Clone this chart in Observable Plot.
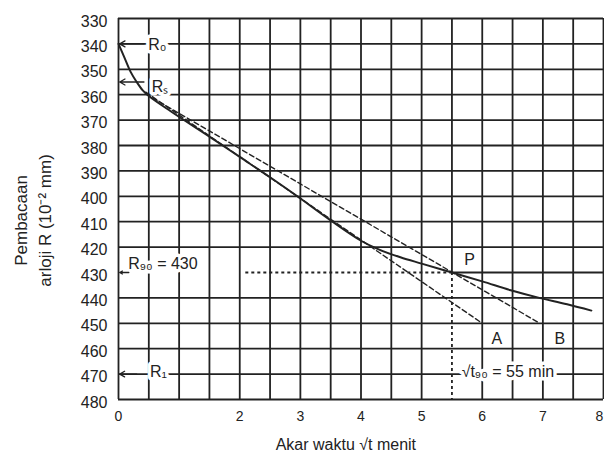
<!DOCTYPE html>
<html>
<head>
<meta charset="utf-8">
<script src="https://cdn.jsdelivr.net/npm/d3@7"></script>
<script src="https://cdn.jsdelivr.net/npm/@observablehq/plot@0.6"></script>
<style>
  body { margin: 0; background: #fff; }
  #chart { width: 604px; height: 461px; overflow: hidden; }
</style>
</head>
<body>
<div id="chart"></div>
<script>
// ---- data ----
const yTicks = [330, 340, 350, 360, 370, 380, 390, 400, 410, 420, 430, 440, 450, 460, 470, 480];
const xTicks = [0, 2, 3, 4, 5, 6, 7];
const xTickLast = [8];
const xGridVals = [0, 0.5, 1, 1.5, 2, 2.5, 3, 3.5, 4, 4.5, 5, 5.5, 6, 6.5, 7, 7.5, 8];

// measured settlement curve (dial reading vs sqrt time)
const curveX = [0, 0.1, 0.2, 0.3, 0.4, 0.5, 0.86, 1.5, 2.0, 2.5, 2.95, 3.5, 4.0, 4.3, 4.65, 5.0, 5.5, 6.0, 6.47, 6.91, 7.4, 7.8];
const curveY = [340, 345.5, 351, 355, 358.3, 360.5, 366.5, 376.5, 384.5, 392.5, 400, 409.5, 417.5, 421, 424, 426.5, 430, 433.5, 437, 439.8, 442.5, 445];

// construction lines (Taylor)
const lineAX = [0.45, 6.0];
const lineAY = [359, 450];
const lineBX = [0.45, 6.95];
const lineBY = [359.7, 450];

const R0 = 340, Rs = 355, R90 = 430, Rf = 470, t90 = 5.5;
const r90LineStart = 2.1;

// labels
const labelText = ["R₀", "Rₛ", "R₉₀ = 430", "R₁", "√t₉₀ = 55 min"];
const labelX = [0.49, 0.55, 0.16, 0.52, 5.66];
const labelY = [340.3, 356.8, 426.6, 469.2, 469];
const letterText = ["P", "A", "B"];
const letterX = [5.79, 6.24, 7.28];
const letterY = [424.9, 456, 456];
const arrowY = [R0, Rs, R90, Rf];
const arrowFrom = [0.42, 0.42, 0.17, 0.3];

const yTitle1 = "Pembacaan";
const yTitle2 = "arloji R (10⁻² mm)";
const xTitle = "Akar waktu √t menit";

// ---- derived tables ----
const vGrid = xGridVals.map(x => ({x, y1: 330, y2: x === t90 ? R90 : 480}));
const hGrid = yTicks.map(y => ({y, x1: y === R90 ? t90 : 0, x2: 8}));
const curve = curveX.map((x, i) => ({x, y: curveY[i]}));
const lineA = lineAX.map((x, i) => ({x, y: lineAY[i]}));
const lineB = lineBX.map((x, i) => ({x, y: lineBY[i]}));
const labels = labelText.map((t, i) => ({t, x: labelX[i], y: labelY[i]}));
const letters = letterText.map((t, i) => ({t, x: letterX[i], y: letterY[i]}));
const arrows = arrowY.map((y, i) => ({y, x1: arrowFrom[i], x2: 0.02}));

const ink = "#222";
const font = "'Liberation Sans', Arial, sans-serif";

const plot = Plot.plot({
  width: 604,
  height: 461,
  marginLeft: 118,
  marginRight: 1,
  marginTop: 18,
  marginBottom: 62,
  x: {domain: [0, 8], axis: null},
  y: {domain: [330, 480], reverse: true, axis: null},
  style: {background: "white", fontFamily: font, color: ink, overflow: "visible"},
  marks: [
    Plot.ruleX(vGrid, {x: "x", y1: "y1", y2: "y2", stroke: ink, strokeWidth: 1.8}),
    Plot.ruleY(hGrid, {y: "y", x1: "x1", x2: "x2", stroke: ink, strokeWidth: 1.8}),
    Plot.ruleY([R90], {y: d => d, x1: () => r90LineStart, x2: () => t90, stroke: ink, strokeWidth: 1.8, strokeDasharray: "3,3"}),
    Plot.ruleX([t90], {x: d => d, y1: () => R90, y2: () => 480, stroke: ink, strokeWidth: 1.8, strokeDasharray: "3,3"}),
    Plot.line(lineA, {x: "x", y: "y", stroke: ink, strokeWidth: 1.4, strokeDasharray: "5,3"}),
    Plot.line(lineB, {x: "x", y: "y", stroke: ink, strokeWidth: 1.4, strokeDasharray: "5,3"}),
    Plot.line(curve, {x: "x", y: "y", stroke: ink, strokeWidth: 2, curve: "catmull-rom"}),
    // white knock-out behind annotation labels
    Plot.text(labels, {x: "x", y: "y", text: "t", textAnchor: "start", fontSize: 16, fill: "white", stroke: "white", strokeWidth: 7}),
    Plot.arrow(arrows, {x1: "x1", x2: "x2", y1: "y", y2: "y", stroke: ink, strokeWidth: 1.3, headLength: 7}),
    Plot.text(labels, {x: "x", y: "y", text: "t", textAnchor: "start", fontSize: 16, fill: ink}),
    Plot.text(letters, {x: "x", y: "y", text: "t", fontSize: 16, fill: ink}),
    // tick labels
    Plot.text(yTicks, {x: () => 0, y: d => d, text: d => String(d), textAnchor: "end", dx: -11, dy: 3, fontSize: 16, fill: ink}),
    Plot.text(xTicks, {x: d => d, y: () => 480, text: d => String(d), dy: 17, fontSize: 14, fill: ink}),
    Plot.text(xTickLast, {x: d => d, y: () => 480, text: d => String(d), dy: 17, dx: -4, fontSize: 14, fill: ink}),
    // axis titles
    Plot.text([xTitle], {x: () => 3.75, y: () => 480, text: d => d, dy: 45, fontSize: 16, fill: ink}),
    Plot.text([yTitle1], {x: () => -1.6, y: () => 409.5, text: d => d, rotate: -90, fontSize: 17, fill: ink}),
    Plot.text([yTitle2], {x: () => -1.2, y: () => 409.5, text: d => d, rotate: -90, fontSize: 17, fill: ink})
  ]
});
document.getElementById("chart").appendChild(plot);
</script>
</body>
</html>
